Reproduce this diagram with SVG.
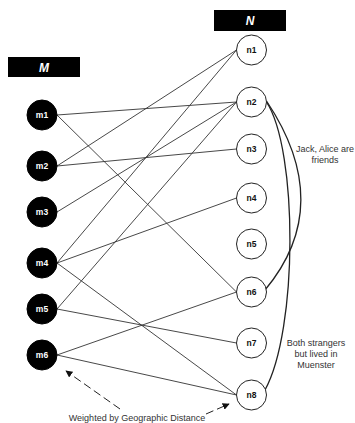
<svg xmlns="http://www.w3.org/2000/svg" width="355" height="423" viewBox="0 0 355 423">
  <defs>
    <style>
      .hdr { fill: #000; }
      .hdr-t { fill: #fff; font-family: "Liberation Sans", Arial, sans-serif; font-size: 12px; font-weight: bold; font-style: italic; text-anchor: middle; }
      .m circle { fill: #000; stroke: #000; stroke-width: 1; }
      .m text { fill: #fff; font-family: "Liberation Sans", Arial, sans-serif; font-size: 8.5px; font-weight: bold; text-anchor: middle; }
      .n circle { fill: #fff; stroke: #222; stroke-width: 1; }
      .n text { fill: #111; font-family: "Liberation Sans", Arial, sans-serif; font-size: 8.5px; font-weight: bold; text-anchor: middle; }
      .edge { stroke: #333; stroke-width: 0.9; fill: none; }
      .rel { stroke: #222; stroke-width: 1.3; fill: none; }
      .dash { stroke: #222; stroke-width: 1; fill: none; stroke-dasharray: 8 4; }
      .note { fill: #333; font-family: "Liberation Sans", Arial, sans-serif; font-size: 9px; text-anchor: middle; }
    </style>
    <marker id="arrow" viewBox="0 0 10 10" refX="9" refY="5" markerWidth="7" markerHeight="7" orient="auto" markerUnits="userSpaceOnUse">
      <path d="M0,0 L10,5 L0,10 z" fill="#111"/>
    </marker>
  </defs>

  <!-- column headers -->
  <g id="header-M">
    <rect class="hdr" x="8" y="57" width="72" height="20"/>
    <text class="hdr-t" x="44" y="71.5">M</text>
  </g>
  <g id="header-N">
    <rect class="hdr" x="214" y="10" width="72" height="21"/>
    <text class="hdr-t" x="250" y="25">N</text>
  </g>

  <!-- connectors -->
  <g id="connectors">
    <line class="edge" x1="57" y1="115" x2="236.5" y2="102"/>
    <line class="edge" x1="57" y1="115" x2="236.5" y2="292"/>
    <line class="edge" x1="57" y1="166" x2="236.5" y2="50"/>
    <line class="edge" x1="57" y1="166" x2="236.5" y2="149"/>
    <line class="edge" x1="57" y1="212" x2="236.5" y2="102"/>
    <line class="edge" x1="57" y1="263" x2="236.5" y2="50"/>
    <line class="edge" x1="57" y1="263" x2="236.5" y2="198"/>
    <line class="edge" x1="57" y1="263" x2="236.5" y2="395"/>
    <line class="edge" x1="57" y1="309" x2="236.5" y2="102"/>
    <line class="edge" x1="57" y1="309" x2="236.5" y2="343"/>
    <line class="edge" x1="57" y1="355" x2="236.5" y2="292"/>
    <line class="edge" x1="57" y1="355" x2="236.5" y2="395"/>

    <!-- relations among N -->
    <path class="rel" d="M266.5,101 Q336,205 265,290"/>
    <path class="rel" d="M266.5,102 C298,150 298,330 265,390"/>

    <!-- weighted-distance annotation -->
    <path class="dash" d="M120,409 L66,371" marker-end="url(#arrow)"/>
    <path class="dash" d="M206,414 L229,404" marker-end="url(#arrow)"/>
  </g>

  <!-- M nodes -->
  <g id="m1" class="m"><circle cx="42" cy="115" r="15"/><text x="42" y="118">m1</text></g>
  <g id="m2" class="m"><circle cx="42" cy="166" r="15"/><text x="42" y="169">m2</text></g>
  <g id="m3" class="m"><circle cx="42" cy="212" r="15"/><text x="42" y="215">m3</text></g>
  <g id="m4" class="m"><circle cx="42" cy="263" r="15"/><text x="42" y="266">m4</text></g>
  <g id="m5" class="m"><circle cx="42" cy="309" r="15"/><text x="42" y="312">m5</text></g>
  <g id="m6" class="m"><circle cx="42" cy="355" r="15"/><text x="42" y="358">m6</text></g>

  <!-- N nodes -->
  <g id="n1" class="n"><circle cx="251.5" cy="50" r="15"/><text x="251.5" y="53">n1</text></g>
  <g id="n2" class="n"><circle cx="251.5" cy="102" r="15"/><text x="251.5" y="105">n2</text></g>
  <g id="n3" class="n"><circle cx="251.5" cy="149" r="15"/><text x="251.5" y="152">n3</text></g>
  <g id="n4" class="n"><circle cx="251.5" cy="198" r="15"/><text x="251.5" y="201">n4</text></g>
  <g id="n5" class="n"><circle cx="251.5" cy="244" r="15"/><text x="251.5" y="247">n5</text></g>
  <g id="n6" class="n"><circle cx="251.5" cy="292" r="15"/><text x="251.5" y="295">n6</text></g>
  <g id="n7" class="n"><circle cx="251.5" cy="343" r="15"/><text x="251.5" y="346">n7</text></g>
  <g id="n8" class="n"><circle cx="251.5" cy="395" r="15"/><text x="251.5" y="398">n8</text></g>

  <!-- annotations -->
  <g id="note-friends">
    <text class="note" x="325" y="152">Jack, Alice are</text>
    <text class="note" x="325" y="163">friends</text>
  </g>
  <g id="note-muenster">
    <text class="note" x="316" y="346">Both strangers</text>
    <text class="note" x="316" y="357">but lived in</text>
    <text class="note" x="316" y="368">Muenster</text>
  </g>
  <g id="note-weighted">
    <text class="note" x="137" y="421">Weighted by Geographic Distance</text>
  </g>
</svg>
